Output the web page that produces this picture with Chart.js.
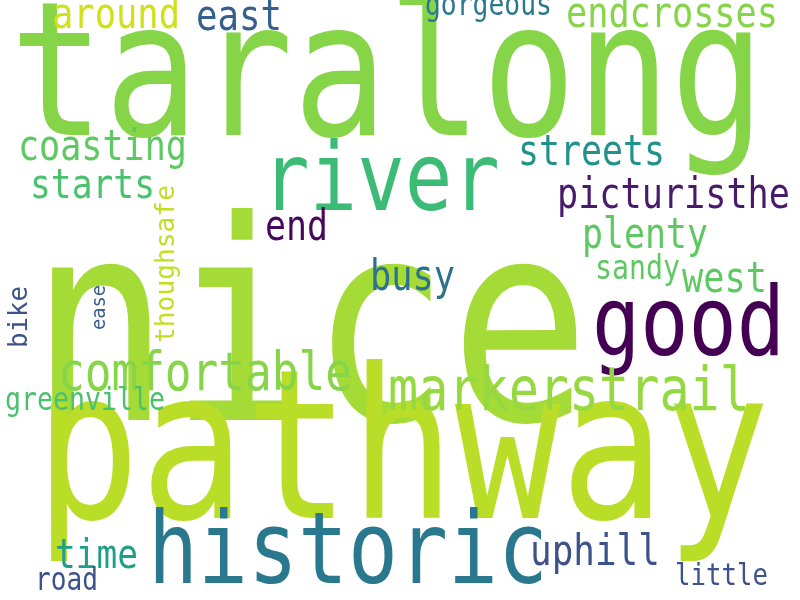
<!DOCTYPE html>
<html lang="en">
<head>
<meta charset="UTF-8">
<title>Word cloud</title>
<script src="https://cdn.jsdelivr.net/npm/chart.js"></script>
<style>body{margin:0;background:#fff}</style>
</head>
<body>
<canvas id="cloud" width="800" height="600"></canvas>
<script>
// words, anchor (left x, baseline y) and word length in px
const words = ['taralong','nice','pathway','historic','river','good','comfortable','markerstrail',
  'around','east','gorgeous','endcrosses','coasting','starts','streets','picturisthe','end',
  'plenty','busy','west','sandy','thoughsafe','ease','bike','greenville','time','road','uphill','little'];
const xs = [10,30,35,148,262,592,58,388,52,196,425,566,18,30,518,557,265,582,370,682,595,167,100,20,5,55,35,530,675];
const ys = [135,420,518,583,210,355,390,410,28,30,15,27,160,198,165,208,240,248,290,292,279,343,330,348,410,568,590,565,585];
const lens = [755,560,735,400,238,193,294,362,128,86,127,212,169,125,147,233,63,126,85,85,85,158,45,62,160,83,63,130,93];
const vertical = [0,0,0,0,0,0,0,0,0,0,0,0,0,0,0,0,0,0,0,0,0,1,1,1,0,0,0,0,0];
const colors = ['#86d549','#a5db36','#bade28','#2a788e','#3bbb75','#440154','#86d549','#95d840',
  '#d0e11c','#355f8d','#2a788e','#86d549','#5ec962','#4ac16d','#21918c','#481a6c','#46085c',
  '#5ec962','#2c728e','#5ec962','#5ec962','#c2df23','#355f8d','#3b528b','#4ac16d','#1f9e89','#3b528b','#3b528b','#3b528b'];

const FONT = '"DejaVu Sans Mono", monospace';
const STRETCH = 1.2; // reference glyphs are taller than DejaVu Mono

const wordPlugin = {
  id: 'words',
  afterDatasetsDraw(chart) {
    const {ctx, scales} = chart;
    ctx.save();
    words.forEach((w, i) => {
      const px = scales.x.getPixelForValue(xs[i]);
      const py = scales.y.getPixelForValue(ys[i]);
      ctx.font = '100px ' + FONT;
      const size = 100 * lens[i] / ctx.measureText(w).width;
      ctx.font = size + 'px ' + FONT;
      ctx.fillStyle = colors[i];
      ctx.save();
      ctx.translate(px, py);
      if (vertical[i]) {
        ctx.rotate(-Math.PI / 2);
        ctx.textBaseline = 'middle';
      } else {
        ctx.textBaseline = 'alphabetic';
        ctx.scale(1, STRETCH);
      }
      ctx.textAlign = 'left';
      ctx.fillText(w, 0, 0);
      ctx.restore();
    });
    ctx.restore();
  }
};

new Chart(document.getElementById('cloud').getContext('2d'), {
  type: 'scatter',
  data: {
    datasets: [{
      data: words.map((w, i) => ({x: xs[i], y: ys[i]})),
      pointRadius: 0
    }]
  },
  options: {
    responsive: false,
    animation: false,
    layout: {padding: 0},
    plugins: {legend: {display: false}, tooltip: {enabled: false}},
    scales: {
      x: {type: 'linear', min: 0, max: 800, display: false},
      y: {type: 'linear', min: 0, max: 600, reverse: true, display: false}
    }
  },
  plugins: [wordPlugin]
});
</script>
</body>
</html>
